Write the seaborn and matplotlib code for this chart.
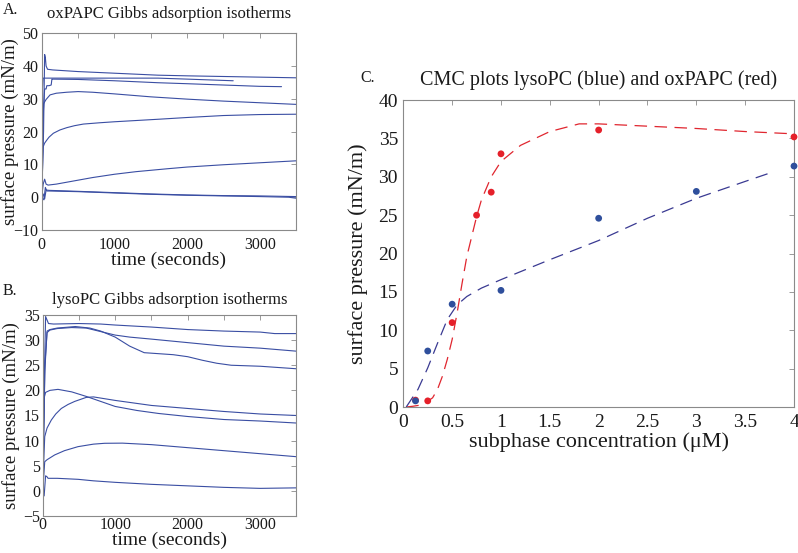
import matplotlib
matplotlib.use("Agg")
import matplotlib.pyplot as plt
import seaborn as sns

# ---- panel A: oxPAPC Gibbs adsorption isotherms (time in s, pressure in mN/m)
ox_a_t = [0, 25, 40, 50, 60, 80, 150, 500, 1000, 1600, 2000, 2500, 3000, 3500]
ox_a_p = [0, 20, 43.5, 42.5, 40, 39, 38.8, 38.3, 37.8, 37.2, 37.0, 36.8, 36.6, 36.4]
ox_b_t = [0, 10, 20, 100, 500, 1000, 1600, 2000, 2635]
ox_b_p = [0, 33, 36.3, 36.3, 36.3, 36.3, 36.3, 36.0, 35.5]
ox_c_t = [0, 20, 40, 60, 70, 100, 130, 140, 150, 500, 1000, 1600, 2000, 2500, 3000, 3300]
ox_c_p = [0, 25, 33, 33, 34, 34, 34.2, 36, 36, 35.9, 35.5, 34.9, 34.6, 34.2, 33.8, 33.7]
ox_d_t = [0, 15, 25, 60, 115, 200, 344, 500, 700, 1000, 1500, 2000, 2500, 3000, 3500]
ox_d_p = [0, 20, 28.5, 29.8, 31.2, 31.7, 32.0, 32.2, 32.0, 31.5, 30.6, 29.9, 29.3, 28.8, 28.3]
ox_e_t = [0, 10, 20, 40, 69, 100, 160, 250, 344, 450, 573, 800, 1000, 1628, 2000, 2500, 3000, 3500]
ox_e_p = [0, 8, 15.4, 16.5, 17.4, 18.3, 19.5, 20.5, 21.2, 21.8, 22.3, 22.7, 23.0, 23.8, 24.3, 24.9, 25.2, 25.3]
ox_f_t = [0, 20, 40, 60, 87, 200, 400, 700, 1000, 1300, 1738, 2000, 2500, 3000, 3500]
ox_f_p = [0, 4, 5.5, 4, 3.7, 4.0, 4.8, 6.0, 7.0, 7.8, 8.7, 9.2, 9.9, 10.5, 11.1]
ox_g_t = [0, 20, 40, 60, 100, 500, 1000, 1500, 2000, 2500, 3000, 3500]
ox_g_p = [0, 1, -0.5, 2.2, 2.1, 1.8, 1.4, 1.0, 0.7, 0.5, 0.4, 0.2]
ox_h_t = [0, 30, 50, 70, 100, 500, 1000, 1500, 2000, 2500, 3000, 3400, 3500]
ox_h_p = [0, -0.8, 3, 1.9, 1.9, 1.7, 1.3, 0.9, 0.6, 0.4, 0.2, 0.0, -0.3]

# ---- panel B: lysoPC Gibbs adsorption isotherms
ly_a_t = [0, 20, 40, 60, 80, 150, 500, 800, 1000, 1500, 2000, 2500, 3000, 3200, 3500]
ly_a_p = [0, 20, 34.7, 34, 33.3, 33.2, 33.3, 33.2, 33.0, 32.6, 32.1, 31.8, 31.6, 31.3, 31.3]
ly_b_t = [0, 30, 60, 100, 200, 400, 600, 800, 1000, 1200, 1500, 2000, 2500, 3000, 3500]
ly_b_p = [0, 25, 31.5, 32.0, 32.3, 32.5, 32.4, 31.7, 31.0, 30.6, 30.2, 29.5, 28.8, 28.4, 27.8]
ly_c_t = [0, 30, 60, 100, 200, 450, 650, 800, 1000, 1200, 1400, 1600, 1800, 2000, 2200, 2400, 2600, 3000, 3500]
ly_c_p = [0, 24, 31.8, 32.1, 32.4, 32.7, 32.4, 31.8, 30.6, 28.8, 27.5, 27.3, 27.1, 26.7, 26.0, 25.4, 25.0, 24.8, 24.3]
ly_d_t = [0, 10, 20, 40, 100, 211, 400, 600, 800, 1000, 1300, 1600, 2000, 2500, 3000, 3500]
ly_d_p = [0, 12, 18.5, 19.6, 20.0, 20.2, 19.7, 18.8, 17.8, 16.8, 16.0, 15.4, 14.8, 14.2, 13.9, 13.5]
ly_e_t = [0, 15, 28, 60, 119, 180, 257, 350, 441, 600, 700, 1000, 1500, 2000, 2500, 3000, 3500]
ly_e_p = [0, 6, 10.8, 12.5, 14.1, 15.3, 16.4, 17.2, 17.8, 18.6, 18.7, 18.0, 17.0, 16.4, 15.8, 15.3, 15.0]
ly_f_t = [0, 15, 28, 60, 165, 300, 487, 700, 855, 1100, 1500, 2000, 2500, 3000, 3500]
ly_f_p = [0, 3, 5.8, 6.2, 7.15, 8.0, 8.8, 9.3, 9.47, 9.5, 9.2, 8.6, 8.0, 7.4, 6.8]
ly_g_t = [0, 20, 40, 60, 74, 200, 487, 700, 1000, 1500, 2000, 2500, 3000, 3500]
ly_g_p = [0, -1, 3, 2.8, 2.5, 2.5, 2.3, 2.0, 1.7, 1.3, 1.0, 0.7, 0.5, 0.6]

time_ticks = [0, 500, 1000, 1500, 2000, 2500, 3000, 3500]
time_labels = ['0', '', '1000', '', '2000', '', '3000', '']

# ---- panel C: CMC plots
lyso_conc = [0.125, 0.25, 0.5, 1, 2, 3, 4]
lyso_pi = [0.8, 7.3, 13.4, 15.2, 24.6, 28.1, 31.4]
ox_conc = [0.125, 0.25, 0.5, 0.75, 0.9, 1, 2, 4]
ox_pi = [0.9, 0.8, 11, 25, 28, 33, 36.1, 35.2]
# dashed guide curves
lyso_fit_x = [0.03, 0.15, 0.25, 0.35, 0.45, 0.55, 0.65, 0.8, 1.0, 1.5, 2.0, 2.5, 3.0, 3.5, 3.8]
lyso_fit_y = [0, 2.3, 5.1, 8.3, 11.4, 13.3, 14.4, 15.5, 16.6, 19.2, 21.7, 24.6, 27.2, 29.4, 30.7]
ox_fit_x = [0.03, 0.1, 0.2, 0.3, 0.35, 0.4, 0.45, 0.5, 0.55, 0.6, 0.65, 0.7, 0.75, 0.8, 0.9, 1.0,
            1.2, 1.5, 1.8, 2.0, 2.5, 3.0, 3.5, 4.0]
ox_fit_y = [0, 0.1, 0.3, 1.2, 2.3, 4.0, 6.2, 8.8, 12.2, 16.0, 19.6, 22.2, 24.8, 27.0, 30.0, 32.0,
            34.1, 35.9, 36.9, 36.9, 36.6, 36.3, 35.9, 35.6]
conc_ticks = [0, 0.5, 1, 1.5, 2, 2.5, 3, 3.5, 4]
conc_labels = ['0', '0.5', '1', '1.5', '2', '2.5', '3', '3.5', '4']

sns.set_theme(style="white")
plt.rcParams['font.family'] = ['Liberation Serif', 'DejaVu Serif']

line_blue = '#3a4ea3'
dot_blue = '#2f4f9c'
dot_red = '#e5202a'
spine_grey = '#8a8a8a'
text_col = '#1a1a1a'

fig = plt.figure(figsize=(7.98, 5.53), dpi=100)
ax_a = fig.add_axes([0.0523, 0.584, 0.3187, 0.356])
ax_b = fig.add_axes([0.0535, 0.0669, 0.318, 0.3635])
ax_c = fig.add_axes([0.5054, 0.264, 0.4896, 0.555])


def style_axes(ax, tick_size, xpad, ypad):
    for sp in ax.spines.values():
        sp.set_color(spine_grey)
        sp.set_linewidth(0.8)
    ax.tick_params(direction='in', top=True, right=True, length=3.5, width=0.6,
                   color=spine_grey, labelsize=tick_size, labelcolor=text_col)
    ax.tick_params(axis='x', pad=xpad)
    ax.tick_params(axis='y', pad=ypad)


ox_curves = [(ox_a_t, ox_a_p), (ox_b_t, ox_b_p), (ox_c_t, ox_c_p), (ox_d_t, ox_d_p),
             (ox_e_t, ox_e_p), (ox_f_t, ox_f_p), (ox_g_t, ox_g_p), (ox_h_t, ox_h_p)]
for t, p in ox_curves:
    sns.lineplot(x=t, y=p, ax=ax_a, color=line_blue, lw=0.8, estimator=None, sort=False)
ax_a.set_xlim(0, 3500)
ax_a.set_ylim(-10, 50)
ax_a.set_xticks(time_ticks)
ax_a.set_xticklabels(time_labels)
ax_a.set_yticks(range(-10, 51, 10))
style_axes(ax_a, 11.5, 5, 2.5)
ax_a.set_xlabel('time (seconds)', fontsize=14, color=text_col)
ax_a.xaxis.set_label_coords(0.5, -0.11)
ax_a.set_ylabel('surface pressure (mN/m)', fontsize=13.5, color=text_col)
ax_a.yaxis.set_label_coords(-0.09, 0.5)
ax_a.set_title('oxPAPC Gibbs adsorption isotherms', fontsize=12, color=text_col, pad=11)

ly_curves = [(ly_a_t, ly_a_p), (ly_b_t, ly_b_p), (ly_c_t, ly_c_p), (ly_d_t, ly_d_p),
             (ly_e_t, ly_e_p), (ly_f_t, ly_f_p), (ly_g_t, ly_g_p)]
for t, p in ly_curves:
    sns.lineplot(x=t, y=p, ax=ax_b, color=line_blue, lw=0.8, estimator=None, sort=False)
ax_b.set_xlim(0, 3500)
ax_b.set_ylim(-5, 35)
ax_b.set_xticks(time_ticks)
ax_b.set_xticklabels(time_labels)
ax_b.set_yticks(range(-5, 36, 5))
style_axes(ax_b, 11.5, 1, 2)
ax_b.set_xlabel('time (seconds)', fontsize=14, color=text_col)
ax_b.xaxis.set_label_coords(0.5, -0.08)
ax_b.set_ylabel('surface pressure (mN/m)', fontsize=13.5, color=text_col)
ax_b.yaxis.set_label_coords(-0.088, 0.5)
ax_b.set_title('lysoPC Gibbs adsorption isotherms', fontsize=12, color=text_col, pad=8)

sns.lineplot(x=ox_fit_x, y=ox_fit_y, ax=ax_c, color='#e0262f', lw=0.9,
             estimator=None, sort=False).lines[-1].set_dashes((10, 6))
sns.lineplot(x=lyso_fit_x, y=lyso_fit_y, ax=ax_c, color='#3a3a92', lw=0.9,
             estimator=None, sort=False).lines[-1].set_dashes((10, 6))
sns.scatterplot(x=ox_conc, y=ox_pi, ax=ax_c, color=dot_red, s=24, edgecolor='none',
                zorder=3, clip_on=False)
sns.scatterplot(x=lyso_conc, y=lyso_pi, ax=ax_c, color=dot_blue, s=24, edgecolor='none',
                zorder=3, clip_on=False)
ax_c.set_xlim(0, 4)
ax_c.set_ylim(0, 40)
ax_c.set_xticks(conc_ticks)
ax_c.set_xticklabels(conc_labels)
ax_c.set_yticks(range(0, 41, 5))
style_axes(ax_c, 14, 5, 3.8)
ax_c.set_xlabel('subphase concentration (\u03bcM)', fontsize=16, color=text_col)
ax_c.xaxis.set_label_coords(0.5, -0.081)
ax_c.set_ylabel('surface pressure (mN/m)', fontsize=16, color=text_col)
ax_c.yaxis.set_label_coords(-0.090, 0.5)
ax_c.set_title('CMC plots lysoPC (blue) and oxPAPC (red)', fontsize=14.5, color=text_col, pad=11)

fig.text(0.003, 0.996, 'A.', fontsize=11.5, color=text_col, va='top')
fig.text(0.003, 0.488, 'B.', fontsize=11.5, color=text_col, va='top')
fig.text(0.451, 0.873, 'C.', fontsize=11.5, color=text_col, va='top')

fig.savefig('out.png', dpi=100)
